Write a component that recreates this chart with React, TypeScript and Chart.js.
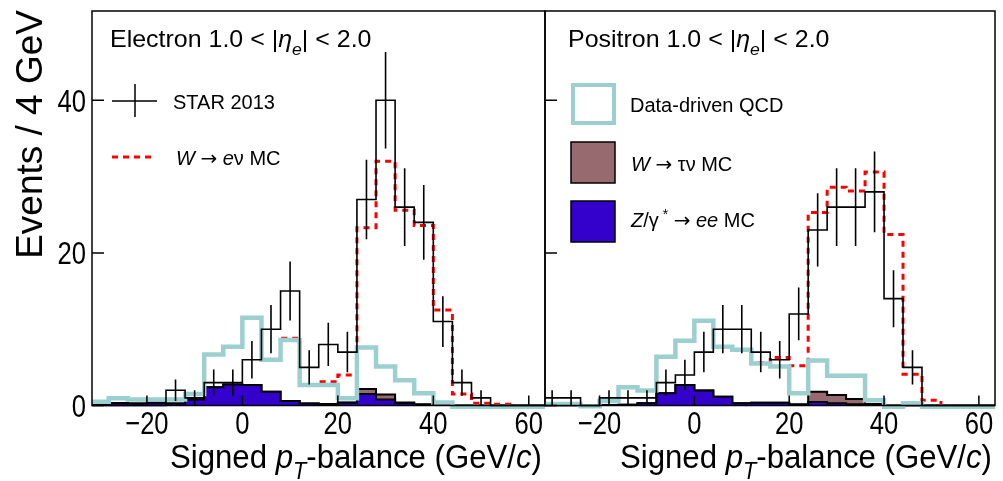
import React, { useEffect, useRef } from "react";
import { Chart, registerables } from "chart.js";
Chart.register(...registerables);

// ---------- data ----------
const BIN_WIDTH = 4;
const binLow = [-32, -28, -24, -20, -16, -12, -8, -4, 0, 4, 8, 12, 16, 20, 24, 28, 32, 36, 40, 44, 48, 52, 56, 60];
const xTicks = [-20, 0, 20, 40, 60];
const yTicks = [0, 20, 40];

// Electron panel
const dataElectron = [0, 0, 0, 0, 2, 1, 3, 3, 6, 10, 15, 5, 8, 7, 27, 40, 26, 24, 11, 3, 1, 0, 0, 0];
const errElectron = [0, 0, 0, 0, 1.41, 1, 1.73, 1.73, 2.45, 3.16, 3.87, 2.24, 2.83, 2.65, 5.2, 6.32, 5.1, 4.9, 3.32, 1.73, 1, 0, 0, 0];
const qcdElectron = [0.5, 0.94, 0.8, 0.8, 0.8, 1.5, 6.7, 7.7, 11.5, 6.0, 8.6, 2.7, 2.7, 0.95, 7.6, 5.1, 3.3, 1.6, 0.4, -0.15, -0.15, -0.15, -0.15, -0.15];
const wenuElectron = [0.5, 0.94, 0.8, 0.8, 0.8, 1.5, 6.7, 7.7, 11.5, 6.0, 8.8, 2.7, 3.1, 4.0, 23.3, 32, 25.6, 23.6, 12.5, 1.5, 0.3, 0.15, -0.15, -0.15];
const wtauElectron = [0.2, 0.33, 0.26, 0.37, 0.25, 0.8, 2.4, 2.75, 2.7, 1.8, 0.6, 0.25, 0.2, 0.4, 2.17, 1.45, 0.4, 0.15, 0.1, 0.05, 0.03, 0.03, 0.02, 0.02];
const zeeElectron = [0.2, 0.33, 0.26, 0.37, 0.25, 0.8, 2.4, 2.75, 2.7, 1.8, 0.6, 0.25, 0.2, 0.37, 1.5, 0.8, 0.28, 0.1, 0.08, 0.05, 0.03, 0.03, 0.02, 0.02];

// Positron panel
const dataPositron = [1, 1, 0, 1, 1, 1, 3, 4, 7, 10, 10, 7, 6, 12, 23, 26, 26, 28, 14, 5, 0, 0, 0, 0];
const errPositron = [1, 1, 0, 1, 1, 1, 1.73, 2, 2.65, 3.16, 3.16, 2.65, 2.45, 3.46, 4.8, 5.1, 5.1, 5.29, 3.74, 2.24, 0, 0, 0, 0];
const qcdPositron = [0.2, 0.2, -0.1, 0.6, 2.4, 1.95, 6.4, 8.5, 11.1, 7.7, 7.3, 5.5, 5.1, 1.6, 5.9, 3.9, 3.9, 0.7, -0.15, 0.3, -0.15, -0.15, -0.15, -0.15];
const wenuPositron = [0.2, 0.2, -0.1, 0.6, 2.4, 1.95, 6.4, 8.5, 11.1, 7.7, 7.3, 5.6, 6.3, 5.2, 25.3, 28.6, 28.1, 30.6, 22.4, 4.1, 0.7, -0.15, -0.15, -0.15];
const wtauPositron = [0.02, 0.02, 0.02, 0.05, 0.1, 0.3, 1.6, 2.7, 1.95, 1.16, 0.3, 0.37, 0.37, 0.15, 1.8, 1.38, 0.85, 0.2, 0.08, 0.03, 0.02, 0.02, 0.02, 0.02];
const zeePositron = [0.02, 0.02, 0.02, 0.05, 0.1, 0.3, 1.6, 2.7, 1.95, 1.16, 0.3, 0.37, 0.37, 0.1, 0.45, 0.3, 0.15, 0.08, 0.05, 0.03, 0.02, 0.02, 0.02, 0.02];

const X_MIN = -31.5;
const X_MAX = 63.4;
const Y_MIN = 0;
const Y_MAX = 51.7;

// ---------- styles ----------
const FONT = '"Liberation Sans", Arial, Helvetica, sans-serif';
const SYMFONT = '"DejaVu Sans", "Liberation Sans", sans-serif';
const TEAL = "#9ccfcf";
const BROWN = "#966a6e";
const BLUE = "#3300cc";
const RED = "#ff0000";

type Seg = { t: string; it?: boolean; sub?: boolean; sup?: boolean; sym?: boolean };

function drawRich(
  ctx: CanvasRenderingContext2D,
  segs: Seg[],
  x: number,
  y: number,
  size: number,
  align: "left" | "right" | "center" = "left",
  hScale = 1
) {
  const fontFor = (s: Seg) =>
    `${s.it ? "italic " : ""}${s.sub || s.sup ? Math.round(size * 0.7) : size}px ${s.sym ? SYMFONT : FONT}`;
  let total = 0;
  const widths = segs.map((s) => {
    ctx.font = fontFor(s);
    const w = ctx.measureText(s.t).width;
    total += w;
    return w;
  });
  ctx.save();
  ctx.translate(x, y);
  ctx.scale(hScale, 1);
  let cx = align === "left" ? 0 : align === "right" ? -total : -total / 2;
  ctx.textBaseline = "alphabetic";
  ctx.textAlign = "left";
  ctx.fillStyle = "#000";
  segs.forEach((s, i) => {
    ctx.font = fontFor(s);
    const dy = s.sub ? size * 0.32 : s.sup ? -size * 0.42 : 0;
    ctx.fillText(s.t, cx, dy);
    cx += widths[i];
  });
  ctx.restore();
}

function steps(vals: number[]) {
  const pts = vals.map((v, i) => ({ x: binLow[i], y: v }));
  pts.push({ x: binLow[binLow.length - 1] + BIN_WIDTH, y: vals[vals.length - 1] });
  return pts;
}

function errorPts(vals: number[], errs: number[]) {
  const pts: { x: number; y: number | null }[] = [];
  vals.forEach((v, i) => {
    if (errs[i] > 0) {
      const c = binLow[i] + BIN_WIDTH / 2;
      pts.push({ x: c, y: v - errs[i] }, { x: c, y: v + errs[i] }, { x: c, y: null });
    }
  });
  return pts;
}

type PanelSpec = {
  key: string;
  left: number;
  right: number;
  showYLabels: boolean;
  data: number[];
  err: number[];
  qcd: number[];
  wenu: number[];
  wtau: number[];
  zee: number[];
  title: Seg[];
  titleX: number;
  legend: "left" | "right";
};

const TITLE_E: Seg[] = [{ t: "Electron 1.0 < |" }, { t: "\u03B7", it: true }, { t: "e", it: true, sub: true }, { t: "| < 2.0" }];
const TITLE_P: Seg[] = [{ t: "Positron 1.0 < |" }, { t: "\u03B7", it: true }, { t: "e", it: true, sub: true }, { t: "| < 2.0" }];
const XTITLE: Seg[] = [
  { t: "Signed " },
  { t: "p", it: true },
  { t: "T", it: true, sub: true },
  { t: "-balance (GeV/" },
  { t: "c", it: true },
  { t: ")" },
];

const panels: PanelSpec[] = [
  {
    key: "e",
    left: 92,
    right: 545,
    showYLabels: true,
    data: dataElectron,
    err: errElectron,
    qcd: qcdElectron,
    wenu: wenuElectron,
    wtau: wtauElectron,
    zee: zeeElectron,
    title: TITLE_E,
    titleX: 110,
    legend: "left",
  },
  {
    key: "p",
    left: 545,
    right: 995,
    showYLabels: false,
    data: dataPositron,
    err: errPositron,
    qcd: qcdPositron,
    wenu: wenuPositron,
    wtau: wtauPositron,
    zee: zeePositron,
    title: TITLE_P,
    titleX: 568,
    legend: "right",
  },
];

const W = 1003;
const H = 481;
const TOP = 11;
const BOTTOM = 405.5;

function makeDecor(spec: PanelSpec) {
  return {
    id: "decor_" + spec.key,
    afterDraw(chart: any) {
      const ctx: CanvasRenderingContext2D = chart.ctx;
      const a = chart.chartArea;
      const xs = chart.scales.x;
      const ys = chart.scales.y;
      ctx.save();
      ctx.strokeStyle = "#000";
      ctx.lineWidth = 1.5;
      ctx.strokeRect(a.left, a.top, a.right - a.left, a.bottom - a.top);
      // ticks (inside)
      ctx.beginPath();
      xTicks.forEach((t) => {
        const px = xs.getPixelForValue(t);
        ctx.moveTo(px, a.bottom);
        ctx.lineTo(px, a.bottom - 10);
      });
      yTicks.forEach((t) => {
        const py = ys.getPixelForValue(t);
        ctx.moveTo(a.left, py);
        ctx.lineTo(a.left + 12, py);
      });
      ctx.stroke();

      // tick labels
      xTicks.forEach((t) => {
        const px = xs.getPixelForValue(t);
        const s = t < 0 ? "\u2212" + Math.abs(t) : String(t);
        drawRich(ctx, [{ t: s }], px, 434, 32, "center", 0.8);
      });
      if (spec.showYLabels) {
        yTicks.forEach((t) => {
          const py = ys.getPixelForValue(t);
          drawRich(ctx, [{ t: String(t) }], 86, py + 11.5, 32, "right", 0.8);
        });
        // y title
        ctx.save();
        ctx.translate(42, 10);
        ctx.rotate(-Math.PI / 2);
        ctx.font = `37px ${FONT}`;
        ctx.textAlign = "right";
        ctx.textBaseline = "alphabetic";
        ctx.fillStyle = "#000";
        ctx.fillText("Events / 4 GeV", 0, 0);
        ctx.restore();
      }
      // x title
      drawRich(ctx, XTITLE, a.right - 3, 468, 33, "right", 0.945);
      // panel title
      drawRich(ctx, spec.title, spec.titleX, 47, 24, "left", 1.04);

      // legends
      if (spec.legend === "left") {
        ctx.strokeStyle = "#000";
        ctx.lineWidth = 1.5;
        ctx.beginPath();
        ctx.moveTo(112, 101);
        ctx.lineTo(157, 101);
        ctx.moveTo(135, 84);
        ctx.lineTo(135, 117);
        ctx.stroke();
        drawRich(ctx, [{ t: "STAR 2013" }], 173, 108.5, 20);
        ctx.strokeStyle = RED;
        ctx.lineWidth = 3;
        ctx.setLineDash([6, 5]);
        ctx.beginPath();
        ctx.moveTo(112, 157);
        ctx.lineTo(154, 157);
        ctx.stroke();
        ctx.setLineDash([]);
        drawRich(
          ctx,
          [{ t: "W", it: true }, { t: " " }, { t: "\u2192", sym: true }, { t: " " }, { t: "e", it: true }, { t: "\u03BD" }, { t: " MC" }],
          176,
          164.5,
          20
        );
      } else {
        ctx.fillStyle = "#fff";
        ctx.fillRect(571, 83, 45, 42);
        ctx.strokeStyle = TEAL;
        ctx.lineWidth = 4;
        ctx.strokeRect(573, 85, 41, 38);
        drawRich(ctx, [{ t: "Data-driven QCD" }], 630, 112, 20);

        ctx.fillStyle = BROWN;
        ctx.fillRect(571, 142, 44, 41);
        ctx.strokeStyle = "#000";
        ctx.lineWidth = 1.5;
        ctx.strokeRect(571, 142, 44, 41);
        drawRich(
          ctx,
          [{ t: "W", it: true }, { t: " " }, { t: "\u2192", sym: true }, { t: " \u03C4\u03BD MC" }],
          631,
          171,
          20
        );

        ctx.fillStyle = BLUE;
        ctx.fillRect(571, 201, 44, 41);
        ctx.strokeRect(571, 201, 44, 41);
        drawRich(
          ctx,
          [
            { t: "Z", it: true },
            { t: "/\u03B3" },
            { t: " *", sup: true },
            { t: " " },
            { t: "\u2192", sym: true },
            { t: " " },
            { t: "ee", it: true },
            { t: " MC" },
          ],
          631,
          227,
          20
        );
      }
      ctx.restore();
    },
  };
}

function Panel({ spec }: { spec: PanelSpec }) {
  const ref = useRef<HTMLCanvasElement>(null);
  useEffect(() => {
    const clip = { left: 0, right: 0, top: 0, bottom: 4 };
    const chart = new Chart(ref.current as HTMLCanvasElement, {
      type: "line",
      data: {
        datasets: [
          {
            label: "STAR 2013",
            data: steps(spec.data),
            borderColor: "#000",
            borderWidth: 1.6,
            stepped: true,
            pointRadius: 0,
            fill: false,
            order: 0,
            clip,
          },
          {
            label: "errors",
            data: errorPts(spec.data, spec.err),
            borderColor: "#000",
            borderWidth: 1.6,
            pointRadius: 0,
            spanGaps: false,
            fill: false,
            order: 0,
            clip,
          },
          {
            label: "Data-driven QCD",
            data: steps(spec.qcd),
            borderColor: TEAL,
            borderWidth: 4.5,
            stepped: true,
            pointRadius: 0,
            fill: false,
            order: 1,
            clip,
          },
          {
            label: "W -> e nu MC",
            data: steps(spec.wenu),
            borderColor: RED,
            borderWidth: 3,
            borderDash: [6, 5],
            stepped: true,
            pointRadius: 0,
            fill: false,
            order: 2,
            clip,
          },
          {
            label: "Z/gamma* -> ee MC",
            data: steps(spec.zee),
            borderColor: "#000",
            backgroundColor: BLUE,
            borderWidth: 2,
            stepped: true,
            pointRadius: 0,
            fill: "origin",
            order: 3,
            clip,
          },
          {
            label: "W -> tau nu MC",
            data: steps(spec.wtau),
            borderColor: "#000",
            backgroundColor: BROWN,
            borderWidth: 2,
            stepped: true,
            pointRadius: 0,
            fill: "origin",
            order: 4,
            clip,
          },
        ] as any,
      },
      options: {
        responsive: false,
        animation: false,
        devicePixelRatio: 1,
        events: [],
        layout: {
          padding: { left: spec.left, right: W - spec.right, top: TOP, bottom: H - BOTTOM },
        },
        scales: {
          x: { type: "linear", min: X_MIN, max: X_MAX, display: false },
          y: { type: "linear", min: Y_MIN, max: Y_MAX, display: false },
        },
        plugins: {
          legend: { display: false },
          title: { display: false },
          tooltip: { enabled: false },
        },
      } as any,
      plugins: [makeDecor(spec)],
    });
    return () => chart.destroy();
  }, [spec]);
  return (
    <canvas
      ref={ref}
      width={W}
      height={H}
      style={{ position: "absolute", left: 0, top: 0, width: W, height: H }}
    />
  );
}

export default function App() {
  return (
    <div style={{ position: "fixed", left: 0, top: 0, width: W, height: H, background: "#fff" }}>
      {panels.map((p) => (
        <Panel key={p.key} spec={p} />
      ))}
    </div>
  );
}
